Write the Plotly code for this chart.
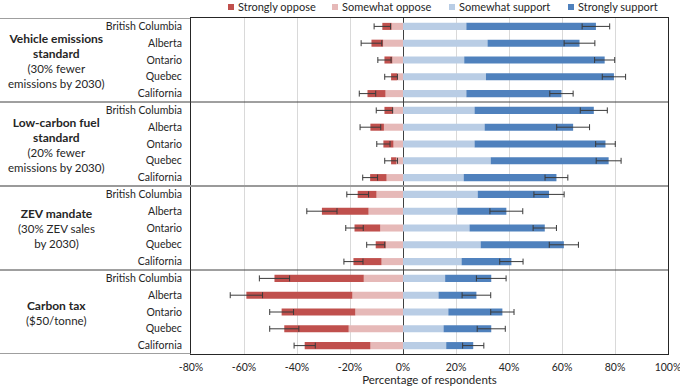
import plotly.graph_objects as go

states = ["British Columbia", "Alberta", "Ontario", "Quebec", "California"]
policies = ["Vehicle emissions standard", "Low-carbon fuel standard", "ZEV mandate", "Carbon tax"]
policy_titles = ["Vehicle emissions<br>standard", "Low-carbon fuel<br>standard", "ZEV mandate", "Carbon tax"]
policy_subtitles = ["(30% fewer<br>emissions by 2030)", "(20% fewer<br>emissions by 2030)",
                    "(30% ZEV sales<br>by 2030)", "($50/tonne)"]
series_names = ["Strongly oppose", "Somewhat oppose", "Somewhat support", "Strongly support"]

strongly_oppose = [3.5, 4.4, 3.0, 2.3, 6.8,
                   3.2, 5.1, 3.8, 2.0, 6.2,
                   7.1, 17.6, 9.7, 3.8, 10.6,
                   33.7, 40.0, 27.8, 24.3, 24.8]
somewhat_oppose = [4.3, 7.5, 4.0, 2.2, 6.6,
                   3.8, 7.2, 3.6, 2.5, 6.2,
                   10.0, 13.0, 8.6, 6.5, 8.1,
                   14.8, 19.1, 18.0, 20.5, 12.3]
oppose_err = [3.1, 3.9, 2.5, 2.4, 3.1,
              3.1, 3.9, 2.5, 2.4, 2.8,
              4.1, 5.7, 3.3, 3.4, 3.6,
              5.7, 6.1, 4.5, 5.5, 4.0]
somewhat_support = [23.9, 31.9, 23.1, 31.3, 23.9,
                    27.0, 30.8, 27.0, 33.1, 22.9,
                    28.2, 20.5, 25.1, 29.3, 22.1,
                    15.9, 13.4, 17.1, 15.3, 16.3]
strongly_support = [48.9, 34.7, 53.0, 48.3, 35.9,
                    45.0, 33.4, 49.4, 44.5, 35.0,
                    26.9, 18.5, 28.4, 31.4, 18.8,
                    17.4, 14.3, 20.4, 18.0, 10.2]
support_err = [5.2, 5.8, 3.8, 4.4, 4.4,
               5.1, 6.2, 3.7, 4.7, 4.3,
               5.7, 6.2, 4.4, 5.5, 4.4,
               5.6, 5.4, 4.4, 5.3, 4.0]
x_ticks = [-80, -60, -40, -20, 0, 20, 40, 60, 80, 100]

n_states = len(states)
ypos = list(range(len(policies) * n_states))
ytext = states * len(policies)

C_SO = "#C0504D"
C_WO = "#E6B9B8"
C_WS = "#B9CDE5"
C_SS = "#4F81BD"
series_colors = [C_SO, C_WO, C_WS, C_SS]
FONT = "Lato"
TXT = "#262626"

fig = go.Figure()
bw = 0.42
fig.add_trace(go.Bar(y=ypos, x=[-v for v in somewhat_oppose], orientation="h", name=series_names[1],
                     marker=dict(color=C_WO, line=dict(width=0)), width=bw, showlegend=False))
fig.add_trace(go.Bar(y=ypos, x=[-v for v in strongly_oppose], orientation="h", name=series_names[0],
                     marker=dict(color=C_SO, line=dict(width=0)), width=bw, showlegend=False))
fig.add_trace(go.Bar(y=ypos, x=somewhat_support, orientation="h", name=series_names[2],
                     marker=dict(color=C_WS, line=dict(width=0)), width=bw, showlegend=False))
fig.add_trace(go.Bar(y=ypos, x=strongly_support, orientation="h", name=series_names[3],
                     marker=dict(color=C_SS, line=dict(width=0)), width=bw, showlegend=False))

opp_total = [-(a + b) for a, b in zip(strongly_oppose, somewhat_oppose)]
sup_total = [a + b for a, b in zip(somewhat_support, strongly_support)]
fig.add_trace(go.Scatter(y=ypos, x=opp_total, mode="markers", marker=dict(size=1, opacity=0),
                         error_x=dict(type="data", array=oppose_err, color="#3a3a3a", thickness=1, width=3),
                         showlegend=False, hoverinfo="skip"))
fig.add_trace(go.Scatter(y=ypos, x=sup_total, mode="markers", marker=dict(size=1, opacity=0),
                         error_x=dict(type="data", array=support_err, color="#3a3a3a", thickness=1, width=3),
                         showlegend=False, hoverinfo="skip"))

W, H = 680, 391
ML, MR, MT, MB = 191, 12, 18, 37
pw = W - ML - MR
left_paper = -ML / pw

shapes = []
shapes.append(dict(type="line", xref="paper", yref="y", x0=left_paper, x1=0, y0=-0.5, y1=-0.5,
                   line=dict(color="#404040", width=1)))
shapes.append(dict(type="line", xref="paper", yref="y", x0=left_paper, x1=0,
                   y0=len(ypos) - 0.5, y1=len(ypos) - 0.5, line=dict(color="#7f7f7f", width=1.5)))
for g in range(1, len(policies)):
    yy = g * n_states - 0.5
    col = "#9a9a9a" if g == 2 else "#404040"
    wd = 2 if g == 2 else 1
    shapes.append(dict(type="line", xref="paper", yref="y", x0=left_paper, x1=1, y0=yy, y1=yy,
                       line=dict(color=col, width=wd)))

annotations = []
for g in range(len(policies)):
    yc = g * n_states + (n_states - 1) / 2
    annotations.append(dict(xref="paper", yref="y", x=(56 - ML) / pw, y=yc,
                            text="<b><span style='font-size:12px'>" + policy_titles[g] + "</span></b><br>"
                                 + policy_subtitles[g],
                            showarrow=False, xanchor="center", yanchor="middle", align="center",
                            font=dict(family=FONT, size=11.5, color=TXT)))

# legend (top row): square swatch + label per series
legend_x = [228, 332, 449, 568]
legend_y = 7
for name, col, lx in zip(series_names, series_colors, legend_x):
    shapes.append(dict(type="rect", xref="paper", yref="paper",
                       x0=(lx - ML) / pw, x1=(lx + 6 - ML) / pw,
                       y0=(H - MB - (legend_y + 3)) / (H - MT - MB),
                       y1=(H - MB - (legend_y - 3)) / (H - MT - MB),
                       fillcolor=col, line=dict(width=0)))
    annotations.append(dict(xref="paper", yref="paper", x=(lx + 8 - ML) / pw,
                            y=(H - MB - legend_y) / (H - MT - MB),
                            text=name, showarrow=False, xanchor="left", yanchor="middle",
                            font=dict(family=FONT, size=11, color=TXT)))

fig.update_layout(
    width=W, height=H,
    margin=dict(l=ML, r=MR, t=MT, b=MB, autoexpand=False),
    barmode="relative",
    plot_bgcolor="white", paper_bgcolor="white",
    font=dict(family=FONT, size=11, color=TXT),
    showlegend=False,
    shapes=shapes,
    annotations=annotations,
    xaxis=dict(range=[-80, 100], tickvals=x_ticks, ticktext=[f"{v}%" for v in x_ticks],
               showgrid=True, gridcolor="#D9D9D9", gridwidth=1,
               zeroline=True, zerolinecolor="#404040", zerolinewidth=1,
               showline=True, linecolor="#262626", linewidth=1, mirror=True,
               ticks="", ticklabeloverflow="allow", ticklabelstandoff=3,
               tickfont=dict(family=FONT, size=10.5, color=TXT),
               title=dict(text="Percentage of respondents", standoff=2,
                          font=dict(family=FONT, size=11.5, color=TXT))),
    yaxis=dict(range=[len(ypos) - 0.5, -0.5], tickvals=ypos, ticktext=ytext,
               showgrid=False, zeroline=False,
               showline=True, linecolor="#262626", linewidth=1, mirror=True,
               ticks="", ticklabelstandoff=6,
               tickfont=dict(family=FONT, size=10.5, color=TXT)),
)

fig.write_html("out.html", config={"displayModeBar": False},
               post_script="document.body.style.margin='0';document.body.style.padding='0';")
